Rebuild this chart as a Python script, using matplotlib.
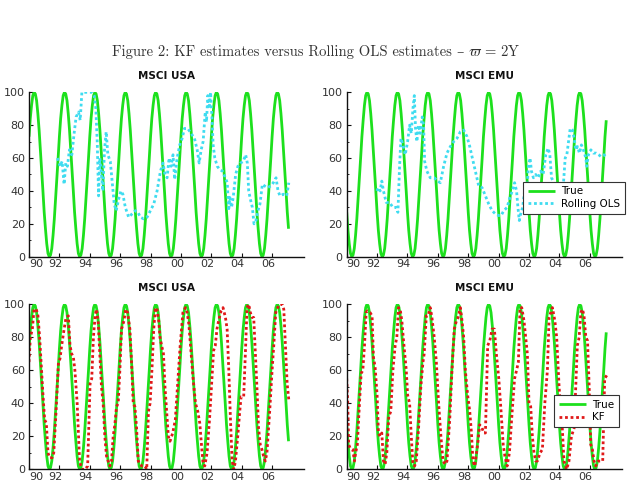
import numpy as np
import matplotlib
matplotlib.use("Agg")
import matplotlib.pyplot as plt
from matplotlib.transforms import ScaledTranslation

plt.rcParams['mathtext.fontset'] = 'cm'

# ---------------- data ----------------
tick_years = [1990, 1992, 1994, 1996, 1998, 2000, 2002, 2004, 2006]
tick_labels = ['90', '92', '94', '96', '98', '00', '02', '04', '06']
ytick_vals = [0, 20, 40, 60, 80, 100]

n_months = 206  # Jan 1990 .. Feb 2007 (monthly)
true_usa = [
    73, 84, 92, 98, 100, 99, 95, 87, 77, 65, 53, 40, 27, 17, 8, 2, 0, 1, 5, 13, 23, 35, 47, 60,
    73, 84, 92, 98, 100, 99, 95, 87, 77, 65, 53, 40, 27, 17, 8, 2, 0, 1, 5, 13, 23, 35, 47, 60,
    73, 84, 92, 98, 100, 99, 95, 87, 77, 65, 53, 40, 27, 17, 8, 2, 0, 1, 5, 13, 23, 35, 47, 60,
    73, 84, 92, 98, 100, 99, 95, 87, 77, 65, 53, 40, 27, 17, 8, 2, 0, 1, 5, 13, 23, 35, 47, 60,
    73, 84, 92, 98, 100, 99, 95, 87, 77, 65, 53, 40, 27, 17, 8, 2, 0, 1, 5, 13, 23, 35, 47, 60,
    73, 84, 92, 98, 100, 99, 95, 87, 77, 65, 53, 40, 27, 17, 8, 2, 0, 1, 5, 13, 23, 35, 47, 60,
    73, 84, 92, 98, 100, 99, 95, 87, 77, 65, 53, 40, 27, 17, 8, 2, 0, 1, 5, 13, 23, 35, 47, 60,
    73, 84, 92, 98, 100, 99, 95, 87, 77, 65, 53, 40, 27, 17, 8, 2, 0, 1, 5, 13, 23, 35, 47, 60,
    73, 84, 92, 98, 100, 99, 95, 87, 77, 65, 53, 40, 27, 17,
]
true_emu = [
    27, 16, 8, 2, 0, 1, 5, 13, 23, 35, 47, 60, 73, 83, 92, 98, 100, 99, 95, 87, 77, 65, 53, 40,
    27, 16, 8, 2, 0, 1, 5, 13, 23, 35, 47, 60, 73, 83, 92, 98, 100, 99, 95, 87, 77, 65, 53, 40,
    27, 16, 8, 2, 0, 1, 5, 13, 23, 35, 47, 60, 73, 83, 92, 98, 100, 99, 95, 87, 77, 65, 53, 40,
    27, 16, 8, 2, 0, 1, 5, 13, 23, 35, 47, 60, 73, 83, 92, 98, 100, 99, 95, 87, 77, 65, 53, 40,
    27, 16, 8, 2, 0, 1, 5, 13, 23, 35, 47, 60, 73, 83, 92, 98, 100, 99, 95, 87, 77, 65, 53, 40,
    27, 16, 8, 2, 0, 1, 5, 13, 23, 35, 47, 60, 73, 83, 92, 98, 100, 99, 95, 87, 77, 65, 53, 40,
    27, 16, 8, 2, 0, 1, 5, 13, 23, 35, 47, 60, 73, 83, 92, 98, 100, 99, 95, 87, 77, 65, 53, 40,
    27, 16, 8, 2, 0, 1, 5, 13, 23, 35, 47, 60, 73, 83, 92, 98, 100, 99, 95, 87, 77, 65, 53, 40,
    27, 16, 8, 2, 0, 1, 5, 13, 23, 35, 47, 60, 73, 83,
]

ols_usa_t = [1991.87, 1992.05, 1992.18, 1992.31, 1992.42, 1992.53, 1992.66, 1992.82, 1992.97, 1993.10,
             1993.26, 1993.37, 1993.48, 1993.70, 1993.92, 1994.14, 1994.29, 1994.40, 1994.49, 1994.58,
             1994.66, 1994.75, 1994.86, 1994.97, 1995.08, 1995.19, 1995.35, 1995.48, 1995.61, 1995.74,
             1995.90, 1996.05, 1996.18, 1996.34, 1996.56, 1996.78, 1997.00, 1997.17, 1997.33, 1997.55,
             1997.77, 1997.99, 1998.21, 1998.43, 1998.65, 1998.82, 1998.95, 1999.09, 1999.22, 1999.35,
             1999.48, 1999.59, 1999.75, 1999.92, 2000.08, 2000.23, 2000.45, 2000.67, 2000.89, 2001.07,
             2001.20, 2001.33, 2001.46, 2001.60, 2001.68, 2001.77, 2001.86, 2001.95, 2002.04, 2002.12,
             2002.23, 2002.39, 2002.56, 2002.74, 2002.92, 2003.05, 2003.14, 2003.22, 2003.33, 2003.44,
             2003.60, 2003.75, 2003.93, 2004.10, 2004.26, 2004.37, 2004.46, 2004.57, 2004.70, 2004.81,
             2004.94, 2005.07, 2005.20, 2005.36, 2005.51, 2005.69, 2005.91, 2006.08, 2006.26, 2006.39,
             2006.52, 2006.74, 2006.96, 2007.10]
ols_usa_v = [60, 55, 58, 44, 57, 55, 65, 62, 75, 85,
             88, 83, 100, 100, 100, 100, 98, 90, 70, 37,
             60, 52, 40, 65, 76, 62, 58, 45, 32, 28,
             35, 40, 38, 30, 24, 26, 28, 27, 24, 23,
             24, 28, 32, 40, 52, 57, 50, 48, 60, 55,
             62, 47, 60, 68, 72, 78, 78, 75, 72, 65,
             57, 65, 70, 88, 82, 98, 90, 100, 85, 68,
             60, 55, 53, 52, 48, 45, 28, 36, 30, 36,
             50, 55, 57, 58, 62, 57, 40, 35, 30, 20,
             22, 28, 32, 44, 43, 42, 43, 45, 48, 40,
             37, 38, 37, 45]

ols_emu_t = [1991.98, 1992.09, 1992.20, 1992.31, 1992.42, 1992.60, 1992.82, 1993.04, 1993.26, 1993.37,
             1993.48, 1993.57, 1993.70, 1993.85, 1994.01, 1994.14, 1994.25, 1994.36, 1994.45, 1994.53,
             1994.62, 1994.73, 1994.84, 1994.97, 1995.06, 1995.13, 1995.28, 1995.50, 1995.76, 1995.98,
             1996.16, 1996.38, 1996.60, 1996.82, 1997.04, 1997.26, 1997.48, 1997.70, 1997.92, 1998.10,
             1998.27, 1998.47, 1998.69, 1998.91, 1999.13, 1999.35, 1999.57, 1999.79, 2000.01, 2000.16,
             2000.34, 2000.56, 2000.74, 2000.90, 2001.05, 2001.18, 2001.27, 2001.36, 2001.45, 2001.58,
             2001.71, 2001.85, 2001.96, 2002.07, 2002.16, 2002.29, 2002.44, 2002.60, 2002.77, 2002.93,
             2003.10, 2003.26, 2003.37, 2003.48, 2003.65, 2003.83, 2003.98, 2004.14, 2004.27, 2004.38,
             2004.49, 2004.60, 2004.71, 2004.86, 2004.97, 2005.08, 2005.19, 2005.32, 2005.45, 2005.58,
             2005.74, 2005.80, 2005.91, 2006.07, 2006.24, 2006.42, 2006.59, 2006.72, 2006.94, 2007.12]
ols_emu_v = [40, 42, 40, 46, 40, 33, 33, 30, 30, 27,
             55, 72, 68, 62, 70, 80, 75, 90, 98, 78,
             70, 80, 75, 85, 80, 58, 52, 48, 48, 46,
             45, 55, 63, 67, 70, 72, 76, 77, 73, 67,
             60, 52, 43, 42, 37, 32, 28, 26, 25, 25,
             28, 30, 36, 40, 45, 40, 30, 22, 26, 30,
             40, 38, 55, 60, 52, 48, 50, 48, 52, 50,
             62, 66, 62, 48, 45, 42, 40, 40, 45, 60,
             62, 70, 78, 77, 72, 65, 67, 63, 68, 65,
             60, 55, 62, 65, 63, 63, 62, 61, 62, 60]

kf_usa_t = [1990.00, 1990.09, 1990.22, 1990.33, 1990.48, 1990.59, 1990.70, 1990.81, 1990.92, 1991.03,
            1991.14, 1991.25, 1991.36, 1991.52, 1991.63, 1991.78, 1991.94, 1992.04, 1992.15, 1992.31,
            1992.44, 1992.59, 1992.70, 1992.81, 1992.92, 1993.02, 1993.17, 1993.33, 1993.48, 1993.70,
            1993.86, 1993.92, 1994.02, 1994.13, 1994.24, 1994.35, 1994.44, 1994.55, 1994.66, 1994.77,
            1994.88, 1994.99, 1995.10, 1995.21, 1995.32, 1995.43, 1995.54, 1995.65, 1995.76, 1995.87,
            1995.98, 1996.09, 1996.25, 1996.36, 1996.49, 1996.64, 1996.75, 1996.86, 1996.97, 1997.08,
            1997.19, 1997.31, 1997.42, 1997.63, 1997.75, 1997.86, 1997.97, 1998.09, 1998.21, 1998.31,
            1998.40, 1998.54, 1998.62, 1998.73, 1998.85, 1998.95, 1999.06, 1999.17, 1999.28, 1999.46,
            1999.63, 1999.77, 1999.95, 2000.13, 2000.30, 2000.41, 2000.52, 2000.63, 2000.80, 2000.96,
            2001.11, 2001.24, 2001.35, 2001.46, 2001.57, 2001.72, 2001.88, 2002.04, 2002.15, 2002.26,
            2002.37, 2002.48, 2002.64, 2002.77, 2002.93, 2003.04, 2003.15, 2003.26, 2003.37, 2003.48,
            2003.59, 2003.74, 2003.87, 2003.96, 2004.13, 2004.24, 2004.35, 2004.46, 2004.57, 2004.68,
            2004.79, 2004.90, 2005.00, 2005.11, 2005.22, 2005.33, 2005.44, 2005.55, 2005.66, 2005.84,
            2006.00, 2006.11, 2006.24, 2006.37, 2006.50, 2006.66, 2006.77, 2006.88, 2006.99, 2007.10]
kf_usa_v = [65, 80, 85, 97, 97, 93, 80, 62, 45, 30,
            28, 10, 7, 7, 10, 35, 65, 67, 75, 85,
            92, 93, 75, 70, 68, 60, 40, 5, 0, 0,
            2, 20, 52, 55, 80, 93, 97, 90, 70, 50,
            40, 20, 8, 5, 2, 5, 20, 27, 38, 40,
            60, 85, 90, 97, 95, 85, 65, 40, 38, 25,
            5, 3, 2, 2, 0, 35, 40, 60, 85, 97,
            98, 90, 80, 75, 70, 50, 35, 20, 17, 22,
            30, 50, 75, 95, 98, 95, 88, 75, 55, 40,
            35, 28, 15, 3, 2, 10, 30, 55, 72, 75,
            85, 90, 96, 98, 92, 85, 60, 30, 5, 0,
            5, 20, 35, 44, 44, 70, 98, 100, 95, 92,
            92, 70, 50, 25, 15, 12, 8, 5, 10, 35,
            60, 75, 95, 98, 100, 100, 97, 75, 52, 42]

kf_emu_t = [1990.00, 1990.07, 1990.13, 1990.22, 1990.40, 1990.51, 1990.59, 1990.70, 1990.84, 1990.95,
            1991.06, 1991.17, 1991.28, 1991.36, 1991.54, 1991.67, 1991.76, 1991.87, 1992.00, 1992.09,
            1992.20, 1992.31, 1992.42, 1992.53, 1992.64, 1992.77, 1992.90, 1993.04, 1993.19, 1993.30,
            1993.41, 1993.52, 1993.63, 1993.74, 1993.92, 1994.01, 1994.14, 1994.25, 1994.36, 1994.47,
            1994.58, 1994.73, 1994.88, 1995.02, 1995.10, 1995.24, 1995.35, 1995.50, 1995.61, 1995.76,
            1995.90, 1996.05, 1996.20, 1996.34, 1996.49, 1996.60, 1996.78, 1996.93, 1997.08, 1997.22,
            1997.33, 1997.48, 1997.59, 1997.70, 1997.81, 1997.96, 1998.10, 1998.21, 1998.31, 1998.43,
            1998.51, 1998.62, 1998.75, 1998.91, 1999.02, 1999.13, 1999.28, 1999.42, 1999.57, 1999.72,
            1999.85, 2000.01, 2000.16, 2000.30, 2000.41, 2000.56, 2000.71, 2000.89, 2001.05, 2001.18,
            2001.30, 2001.41, 2001.52, 2001.67, 2001.78, 2001.89, 2002.00, 2002.11, 2002.22, 2002.33,
            2002.44, 2002.55, 2002.73, 2002.88, 2003.04, 2003.21, 2003.32, 2003.43, 2003.54, 2003.70,
            2003.82, 2003.98, 2004.09, 2004.19, 2004.30, 2004.48, 2004.63, 2004.79, 2004.97, 2005.18,
            2005.30, 2005.41, 2005.52, 2005.62, 2005.74, 2005.85, 2005.96, 2006.06, 2006.17, 2006.28,
            2006.39, 2006.55, 2006.72, 2006.85, 2006.98, 2007.12]
kf_emu_v = [55, 40, 15, 13, 12, 5, 10, 15, 40, 58,
            60, 75, 95, 96, 95, 93, 68, 62, 45, 22,
            20, 22, 5, 3, 10, 32, 35, 60, 75, 80,
            98, 97, 90, 78, 60, 45, 40, 20, 3, 2,
            5, 25, 50, 65, 70, 93, 93, 98, 92, 80,
            65, 40, 20, 5, 3, 5, 30, 60, 85, 90,
            92, 98, 90, 80, 60, 45, 35, 22, 5, 2,
            8, 15, 27, 25, 22, 22, 75, 78, 85, 85,
            70, 55, 35, 15, 8, 2, 10, 35, 55, 60,
            65, 98, 98, 90, 80, 70, 40, 38, 20, 10,
            5, 5, 10, 12, 40, 60, 92, 95, 98, 90,
            80, 50, 35, 25, 5, 0, 5, 20, 25, 75,
            80, 95, 97, 93, 80, 78, 50, 15, 12, 5,
            2, 5, 5, 5, 55, 57]

title_part1 = "Figure 2: KF estimates versus Rolling OLS estimates"
title_dash = "\u2013"
title_part3 = r"$\varpi$ = 2Y"

# ---------------- styling ----------------
GREEN = '#1de01d'
CYAN = '#3fdcf0'
RED = '#e01818'
W, H = 633, 487

months = 1990 + np.arange(n_months) / 12.0

fig = plt.figure(figsize=(W / 100, H / 100), dpi=100)

# --- title assembled from pieces (cmr10 lacks the en dash) ---
renderer = fig.canvas.get_renderer()
tkw = dict(fontsize=10.5, color='#333333', va='baseline', ha='left')
t1 = fig.text(0, 0, title_part1, family='cmr10', **tkw)
t2 = fig.text(0, 0, title_dash, family='DejaVu Serif', **tkw)
t3 = fig.text(0, 0, title_part3, family='cmr10', **tkw)
w1 = t1.get_window_extent(renderer).width
w2 = t2.get_window_extent(renderer).width
w3 = t3.get_window_extent(renderer).width
gap = 4.5
total = w1 + gap + w2 + gap + w3
x0 = 316 - total / 2
ybase = 1 - 56 / H
t1.set_position((x0 / W, ybase))
t2.set_position(((x0 + w1 + gap) / W, ybase))
t3.set_position(((x0 + w1 + gap + w2 + gap) / W, ybase))


def make_ax(left_px, top_px, height_px, title):
    ax = fig.add_axes([left_px / W, 1 - (top_px + height_px) / H, 275 / W, height_px / H])
    ax.set_xlim(1990, 2008.1)
    ax.set_ylim(0, 100)
    for s in ['top', 'right']:
        ax.spines[s].set_visible(False)
    for s in ['left', 'bottom']:
        ax.spines[s].set_linewidth(1.0)
        ax.spines[s].set_color('#111111')
    ax.set_xticks(tick_years)
    ax.set_xticklabels(tick_labels)
    ax.set_yticks(ytick_vals)
    ax.set_yticks([10, 30, 50, 70, 90], minor=True)
    ax.tick_params(axis='both', which='major', direction='in', length=3, width=0.8,
                   labelsize=8, colors='#111111', labelcolor='#333333')
    ax.tick_params(axis='y', which='minor', direction='in', length=1.5, width=0.6)
    ax.tick_params(axis='x', pad=2)
    ax.tick_params(axis='y', pad=3)
    for i, lab in enumerate(ax.get_xticklabels()):
        dx = 5.0 if i == 0 else -3.0
        lab.set_transform(lab.get_transform() + ScaledTranslation(dx / 72, 0, fig.dpi_scale_trans))
    ax.text(0.5, 1 + 16.6 / height_px, title, transform=ax.transAxes, ha='center', va='center',
            fontsize=7.5, fontweight='bold', color='#111111')
    return ax


ax1 = make_ax(29, 92.3, 164.4, 'MSCI USA')
ax2 = make_ax(346.7, 92.3, 164.4, 'MSCI EMU')
ax3 = make_ax(29, 304.3, 165, 'MSCI USA')
ax4 = make_ax(346.7, 304.3, 165, 'MSCI EMU')

dot = (0, (1, 1))

ax1.plot(months, true_usa, color=GREEN, lw=2.0, label='True', solid_capstyle='butt')
ax1.plot(ols_usa_t, ols_usa_v, color=CYAN, lw=2.0, ls=dot, label='Rolling OLS')

ax2.plot(months, true_emu, color=GREEN, lw=2.0, label='True', solid_capstyle='butt')
ax2.plot(ols_emu_t, ols_emu_v, color=CYAN, lw=2.0, ls=dot, label='Rolling OLS')

ax3.plot(months, true_usa, color=GREEN, lw=2.0, label='True', solid_capstyle='butt')
ax3.plot(kf_usa_t, kf_usa_v, color=RED, lw=2.0, ls=dot, label='KF')

ax4.plot(months, true_emu, color=GREEN, lw=2.0, label='True', solid_capstyle='butt')
ax4.plot(kf_emu_t, kf_emu_v, color=RED, lw=2.0, ls=dot, label='KF')

for ax, anchor in [(ax2, (1.012, 0.456)), (ax4, (0.991, 0.450))]:
    leg = ax.legend(loc='upper right', bbox_to_anchor=anchor, borderaxespad=0,
                    fontsize=7.5, frameon=True, fancybox=False, framealpha=1,
                    edgecolor='#333333', handlelength=2.6, handletextpad=0.6,
                    labelspacing=0.25, borderpad=0.45)
    leg.get_frame().set_linewidth(0.8)
    leg.set_zorder(5)

fig.savefig('out.png', dpi=100)
